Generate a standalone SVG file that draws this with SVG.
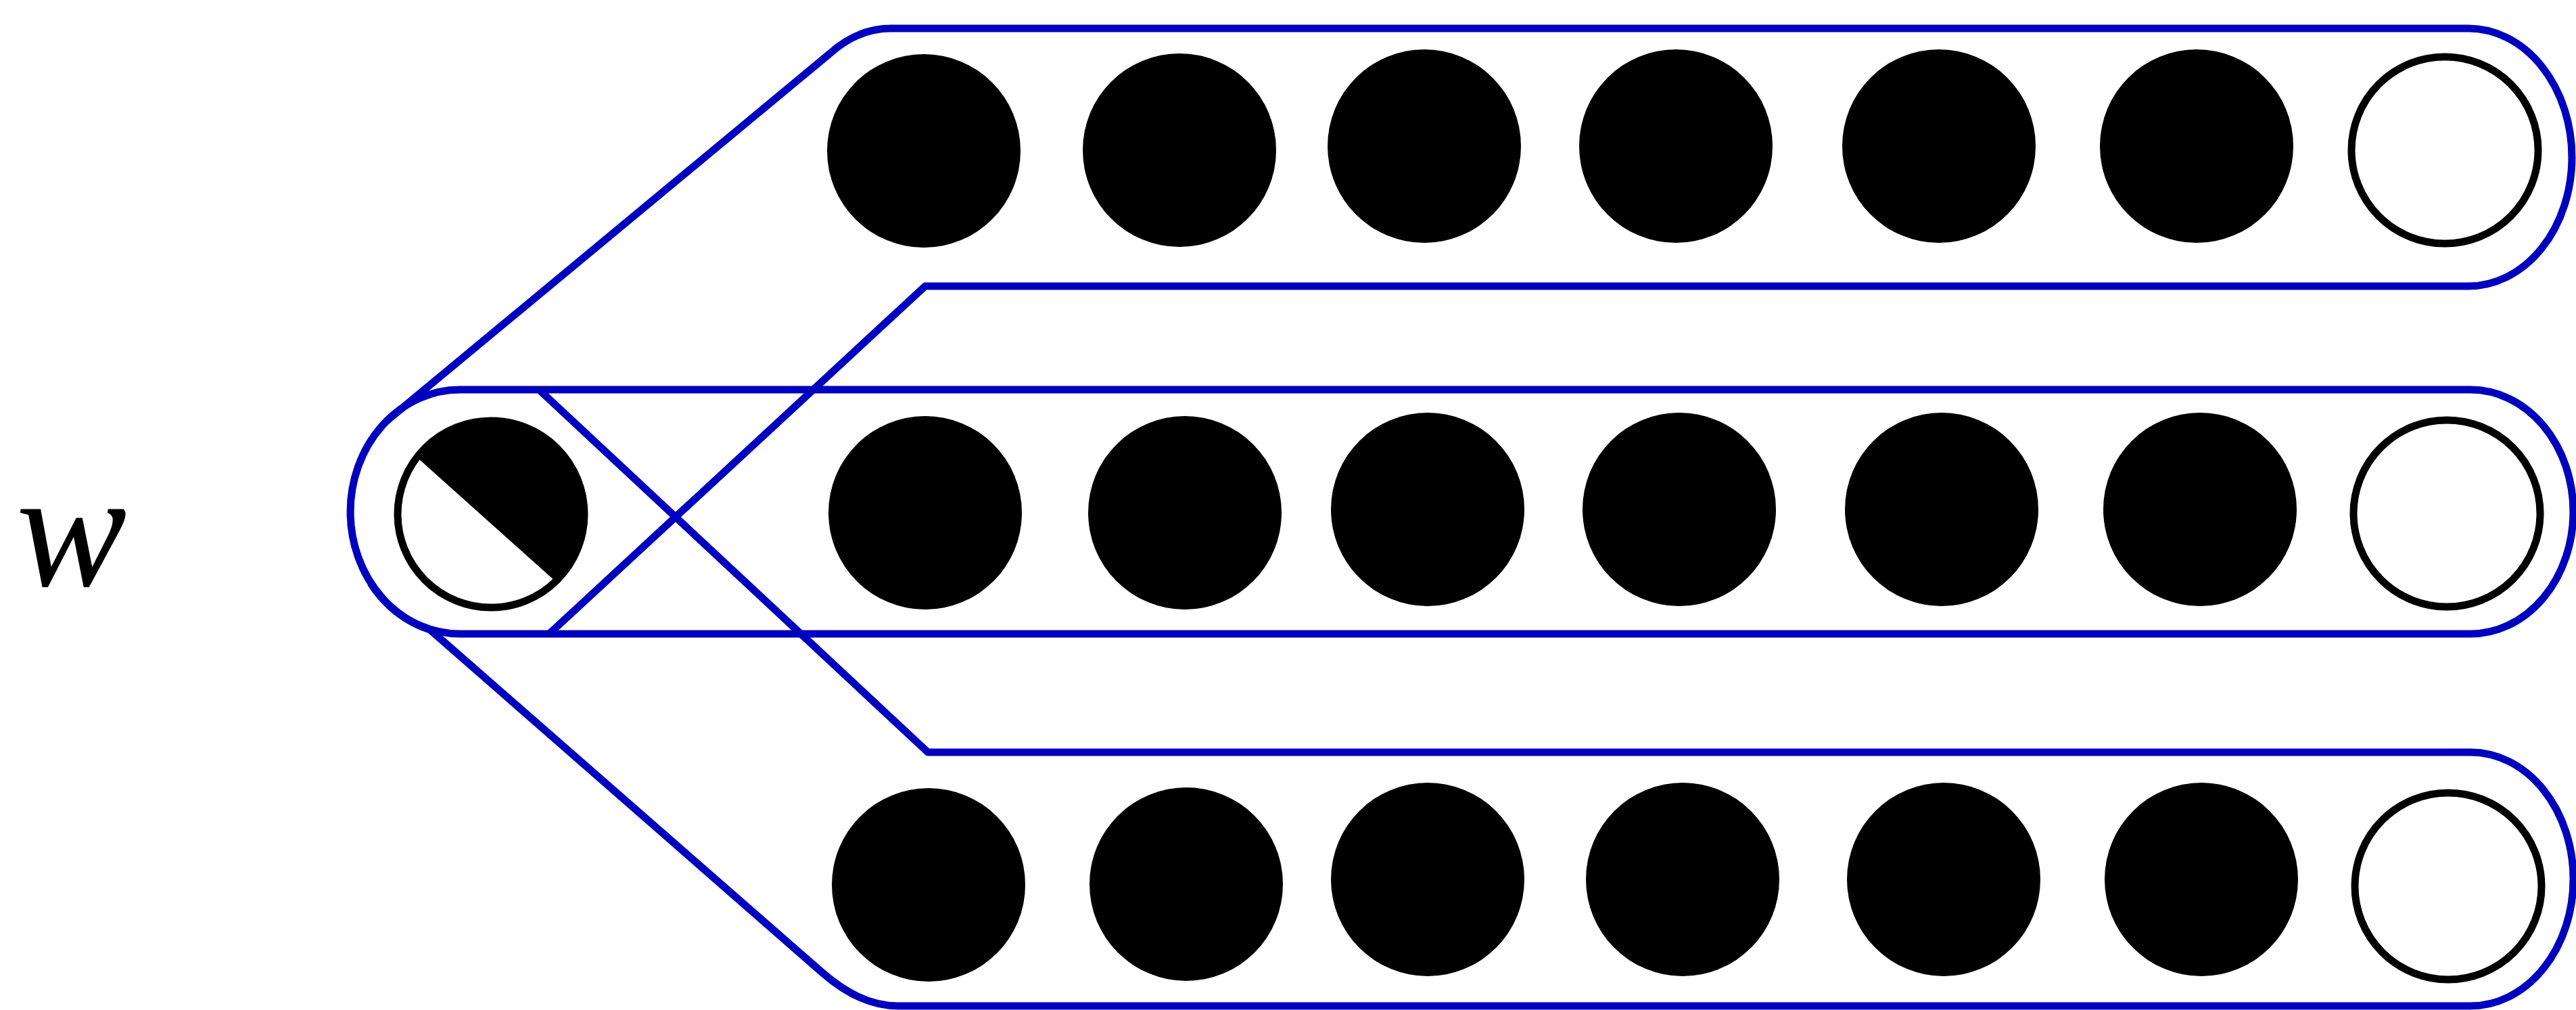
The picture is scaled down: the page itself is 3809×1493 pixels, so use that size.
<svg xmlns="http://www.w3.org/2000/svg" width="3809" height="1493" viewBox="0 0 3809 1493">
<style>
.hull{fill:none;stroke:#0000bf;stroke-width:11;stroke-linejoin:round}
.full{fill:#000}
.open{fill:#fff;stroke:#000;stroke-width:11}
.lbl{font-family:"Liberation Serif","DejaVu Serif",serif;font-style:italic;font-size:245px;fill:#000}
</style>
<rect width="3809" height="1493" fill="#fff"/>
<g id="connectors">
<path class="hull" d="M680,576 L3653,576 A152 180.5 0 0 1 3653,937 L680,937 A162 180.5 0 0 1 680,576 Z"/>
<path class="hull" d="M572,622 L1226,80 Q1268,42 1317,42 L3650,42 A153 190.5 0 0 1 3650,423 L1368,423 L812,937"/>
<path class="hull" d="M797,576 L1372,1112 L3653,1112 A152 187.5 0 0 1 3653,1487 L1327,1487 Q1272,1487 1215,1437 L636,931 A162 180.5 0 0 1 548,862"/>
</g>
<g id="label-w"><text class="lbl" x="24" y="866">w</text></g>
<g id="node-w">
<circle cx="726" cy="760" r="138" fill="#fff"/>
<path class="full" d="M616.5,676 A138 138 0 1 1 821.5,859.6 Z"/>
<circle cx="726" cy="760" r="138" fill="none" stroke="#000" stroke-width="11"/>
</g>
<g id="row1">
<circle id="n1-1" class="full" cx="1366" cy="223" r="143"/>
<circle id="n1-2" class="full" cx="1744" cy="222" r="143"/>
<circle id="n1-3" class="full" cx="2106" cy="216" r="143"/>
<circle id="n1-4" class="full" cx="2478" cy="216" r="143"/>
<circle id="n1-5" class="full" cx="2867" cy="216" r="143"/>
<circle id="n1-6" class="full" cx="3248" cy="216" r="143"/>
<circle id="n1-7" class="open" cx="3615" cy="222" r="138"/>
</g>
<g id="row2">
<circle id="n2-1" class="full" cx="1368" cy="758" r="143"/>
<circle id="n2-2" class="full" cx="1752" cy="758" r="143"/>
<circle id="n2-3" class="full" cx="2111" cy="753" r="143"/>
<circle id="n2-4" class="full" cx="2483" cy="753" r="143"/>
<circle id="n2-5" class="full" cx="2871" cy="753" r="143"/>
<circle id="n2-6" class="full" cx="3253" cy="753" r="143"/>
<circle id="n2-7" class="open" cx="3618" cy="759" r="138"/>
</g>
<g id="row3">
<circle id="n3-1" class="full" cx="1373" cy="1308" r="143"/>
<circle id="n3-2" class="full" cx="1754" cy="1307" r="143"/>
<circle id="n3-3" class="full" cx="2111" cy="1300" r="143"/>
<circle id="n3-4" class="full" cx="2488" cy="1300" r="143"/>
<circle id="n3-5" class="full" cx="2874" cy="1300" r="143"/>
<circle id="n3-6" class="full" cx="3255" cy="1300" r="143"/>
<circle id="n3-7" class="open" cx="3620" cy="1310" r="138"/>
</g>
</svg>
